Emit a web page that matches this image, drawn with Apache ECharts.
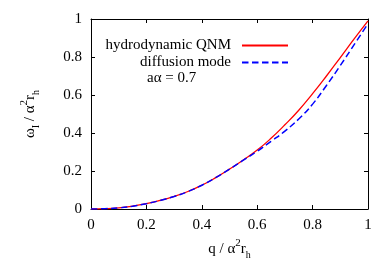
<!DOCTYPE html>
<html>
<head>
<meta charset="utf-8">
<script src="https://cdn.jsdelivr.net/npm/echarts@6/dist/echarts.min.js"></script>
<style>
html,body{margin:0;padding:0;background:#fff;}
#c{width:389px;height:271px;}
</style>
</head>
<body>
<div id="c"></div>
<script>
var qValues = [0, 0.05, 0.1, 0.15, 0.2, 0.25, 0.3, 0.35, 0.4, 0.45, 0.5, 0.55, 0.6, 0.65, 0.7, 0.75, 0.8, 0.85, 0.9, 0.95, 1.0];
var qnmValues = [0, 0.0015, 0.006, 0.015, 0.028, 0.045, 0.066, 0.092, 0.125, 0.165, 0.21, 0.258, 0.31, 0.372, 0.443, 0.52, 0.607, 0.70, 0.797, 0.895, 0.99];
var diffusionValues = [0, 0.0015, 0.006, 0.015, 0.028, 0.045, 0.066, 0.092, 0.125, 0.165, 0.21, 0.257, 0.304, 0.356, 0.41, 0.474, 0.552, 0.65, 0.755, 0.865, 0.975];
var tickLabels = ['0', '0.2', '0.4', '0.6', '0.8', '1'];
var seriesNames = ['hydrodynamic QNM', 'diffusion mode'];
var annotation = 'a\u03b1 = 0.7';

var FONT = 'Liberation Serif';
function pairs(ys) { return qValues.map(function (q, i) { return [q, ys[i]]; }); }
function fmt(v) { var i = Math.round(v * 5); return tickLabels[i] !== undefined ? tickLabels[i] : String(v); }

var rich = {
  t: { fontFamily: FONT, fontSize: 15, color: '#000', lineHeight: 22, verticalAlign: 'middle' },
  sup: { fontFamily: FONT, fontSize: 11, color: '#000', lineHeight: 22, verticalAlign: 'top' },
  sub: { fontFamily: FONT, fontSize: 10, color: '#000', lineHeight: 22, verticalAlign: 'bottom' }
};

var axisCommon = {
  type: 'value', min: 0, max: 1, interval: 0.2,
  axisLine: { show: true, onZero: false, lineStyle: { color: '#000', width: 1 } },
  axisTick: { show: true, inside: true, length: 4, lineStyle: { color: '#000' } },
  splitLine: { show: false }
};

var legendCommon = {
  right: 100, padding: 0, align: 'right', itemWidth: 46, itemHeight: 14,
  itemStyle: { opacity: 0, borderWidth: 0 },
  textStyle: { fontFamily: FONT, fontSize: 15, color: '#000', padding: [0, 6, 0, 0] }
};

var chart = echarts.init(document.getElementById('c'));
chart.setOption({
  animation: false,
  backgroundColor: '#fff',
  grid: { left: 91, right: 21, top: 19, bottom: 62 },
  xAxis: [
    Object.assign({}, axisCommon, {
      position: 'bottom',
      name: '{t|q / \u03b1}{sup|2}{t|r}{sub|h}',
      nameLocation: 'middle', nameGap: 27,
      nameTextStyle: { rich: rich },
      axisLabel: { margin: 9, fontFamily: FONT, fontSize: 15, color: '#000', formatter: fmt }
    }),
    Object.assign({}, axisCommon, { position: 'top', axisLabel: { show: false } })
  ],
  yAxis: [
    Object.assign({}, axisCommon, {
      position: 'left',
      name: '{t|\u03c9}{sub|I}{t| / \u03b1}{sup|2}{t|r}{sub|h}',
      nameLocation: 'middle', nameGap: 50,
      nameTextStyle: { rich: rich },
      axisLabel: { margin: 9, fontFamily: FONT, fontSize: 15, color: '#000', formatter: fmt }
    }),
    Object.assign({}, axisCommon, { position: 'right', axisLabel: { show: false } })
  ],
  legend: [
    Object.assign({}, legendCommon, { data: [seriesNames[0]], top: 38 }),
    Object.assign({}, legendCommon, { data: [seriesNames[1]], top: 55 })
  ],
  graphic: [
    { type: 'text', left: 147, top: 71, style: { text: annotation, font: '15px "Liberation Serif"', fill: '#000' } }
  ],
  series: [
    { name: seriesNames[0], type: 'line', smooth: true, symbol: 'none', data: pairs(qnmValues),
      lineStyle: { color: '#ff0000', width: 1.3 }, itemStyle: { color: '#ff0000' } },
    { name: seriesNames[1], type: 'line', smooth: true, symbol: 'none', data: pairs(diffusionValues),
      lineStyle: { color: '#0000ff', width: 1.5, type: [6.5, 3.5] }, itemStyle: { color: '#0000ff' } }
  ]
});
</script>
</body>
</html>
